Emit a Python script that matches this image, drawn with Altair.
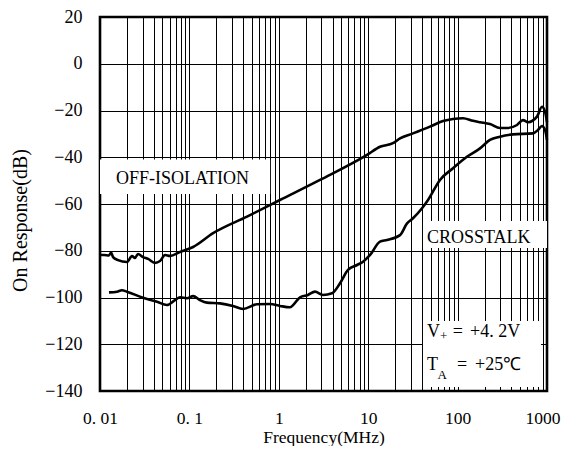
import altair as alt
import pandas as pd

# OFF-ISOLATION curve (frequency MHz, dB)
off_freq = [0.010, 0.0111, 0.0126, 0.0133, 0.0140, 0.0159, 0.0200, 0.0228, 0.0246, 0.0266,
            0.0303, 0.0345, 0.0412, 0.0469, 0.0534, 0.0607, 0.0785, 0.110, 0.184, 0.441,
            1.03, 2.89, 9.70, 13.55, 18.9, 22.7, 31.7, 49.1, 68.7, 88.9, 115, 149, 178,
            230, 298, 357, 462, 539, 613, 773, 879, 950, 1000]
off_db = [-81.8, -81.8, -82.0, -80.8, -82.7, -84.0, -84.8, -82.3, -83.1, -81.4,
          -82.7, -83.5, -85.2, -84.4, -81.8, -82.2, -80.5, -78.4, -72.5, -65.4,
          -58.3, -49.7, -39.0, -35.5, -34.0, -31.9, -29.8, -26.9, -24.5, -23.6, -23.3, -24.4, -25.0,
          -25.8, -27.5, -27.5, -26.2, -24.1, -25.0, -22.6, -18.4, -20.5, -25.0]

# CROSSTALK curve
xt_freq = [0.0126, 0.0155, 0.0176, 0.0200, 0.0303, 0.0434, 0.0561, 0.0690, 0.0785, 0.0940,
           0.110, 0.131, 0.157, 0.220, 0.307, 0.398, 0.571, 0.797, 1.03, 1.33, 1.73, 2.12,
           2.54, 3.12, 3.94, 4.84, 5.94, 7.50, 8.75, 10.5, 13.55, 16.2, 22.7, 27.2, 31.7,
           40.0, 46.7, 63.5, 88.9, 127, 178, 230, 298, 417, 697, 793, 879, 950, 1000]
xt_db = [-97.8, -97.5, -96.9, -97.5, -100.1, -101.8, -103.2, -101.1, -99.9, -100.3,
         -99.4, -101.1, -102.2, -102.5, -103.6, -104.9, -102.9, -102.8, -103.6, -104.2, -99.9, -98.9,
         -97.5, -98.9, -98.2, -93.9, -88.2, -86.1, -84.7, -81.8, -76.1, -75.4, -73.3, -68.3, -66.1,
         -61.8, -58.3, -49.7, -44.7, -39.8, -36.2, -32.6, -31.2, -30.2, -29.8, -28.3, -26.6, -28.3, -32.6]

x_tick_values = [0.01, 0.1, 1, 10, 100, 1000]
x_tick_labels = ["0. 01", "0. 1", "1", "10", "100", "1000"]
y_tick_values = [-140, -120, -100, -80, -60, -40, -20, 0, 20]

# annotation boxes (freq, freq2, dB, dB2)
box_x = [0.0100, 41.0, 41.0]
box_x2 = [0.80, 1000, 857]
box_y = [-41.0, -67.3, -110.0]
box_y2 = [-55.7, -78.8, -138.3]

# annotation texts
ann_text = ["OFF-ISOLATION", "CROSSTALK", "V", "=", "+4. 2V", "T", "=", "+25℃"]
ann_x = [0.0151, 45.5, 45.5, 88.1, 137.7, 45.5, 98.5, 156.6]
ann_y = [-51.4, -76.7, -116.9, -116.9, -116.9, -131.0, -131.0, -131.0]
sub_text = ["+", "A"]
sub_x = [63.5, 59.5]
sub_y = [-118.3, -134.9]

grid_x = []
for k in range(-2, 3):
    for m in range(1, 10):
        grid_x.append(round(m * 10 ** k, 6))
grid_x.append(1000)

curves = pd.DataFrame(
    {"f": off_freq + xt_freq,
     "db": off_db + xt_db,
     "s": ["OFF-ISOLATION"] * len(off_freq) + ["CROSSTALK"] * len(xt_freq)}
)
boxes = pd.DataFrame({"x": box_x, "x2": box_x2, "y": box_y, "y2": box_y2})
anns = pd.DataFrame({"x": ann_x, "y": ann_y, "t": ann_text})
subs = pd.DataFrame({"x": sub_x, "y": sub_y, "t": sub_text})

expr = " : ".join(
    f"datum.value == {v} ? '{l}'" for v, l in zip(x_tick_values, x_tick_labels)
) + " : ''"

FONT = "Liberation Serif"

xscale = alt.Scale(type="log", domain=[0.01, 1000], nice=False)
yscale = alt.Scale(domain=[-140, 20], nice=False)

xaxis = alt.Axis(values=grid_x, labelExpr=expr, grid=True, gridColor="black", gridWidth=1,
                 gridOpacity=1, ticks=False, domain=False, labelFont=FONT, labelFontSize=17.5,
                 labelColor="black", labelPadding=18, labelOverlap=False, labelFlush=False,
                 labelAlign={"condition": {"test": "datum.value == 1000", "value": "right"},
                             "value": "center"},
                 labelOffset={"condition": {"test": "datum.value == 1000", "value": 13},
                              "value": 0},
                 title="Frequency(MHz)", titleFont=FONT, titleFontSize=17.5, titleFontWeight="normal",
                 titleColor="black", titleBaseline="alphabetic", titleY=51)
yaxis = alt.Axis(values=y_tick_values, grid=True, gridColor="black", gridWidth=1, gridOpacity=1,
                 ticks=False, domain=False, labelFont=FONT, labelFontSize=18, labelColor="black",
                 labelPadding=18, labelExpr="replace(format(datum.value, 'd'), '-', '−')",
                 title="On Response(dB)", titleFont=FONT, titleFontSize=20, titleFontWeight="normal",
                 titleColor="black", titleBaseline="alphabetic", titleX=-74, titleY=203)

rects = alt.Chart(boxes).mark_rect(fill="white", stroke=None).encode(
    x=alt.X("x:Q", scale=xscale, axis=xaxis),
    x2="x2:Q",
    y=alt.Y("y:Q", scale=yscale, axis=yaxis),
    y2="y2:Q",
)

lines = alt.Chart(curves).mark_line(color="black", strokeWidth=2.6, interpolate="monotone").encode(
    x=alt.X("f:Q", scale=xscale),
    y=alt.Y("db:Q", scale=yscale),
    detail="s:N",
    order=alt.Order("f:Q"),
)

texts = alt.Chart(anns).mark_text(font=FONT, fontSize=18, align="left", baseline="alphabetic",
                                  color="black").encode(
    x=alt.X("x:Q", scale=xscale), y=alt.Y("y:Q", scale=yscale), text="t:N")

subtexts = alt.Chart(subs).mark_text(font=FONT, fontSize=13, align="left", baseline="alphabetic",
                                     color="black").encode(
    x=alt.X("x:Q", scale=xscale), y=alt.Y("y:Q", scale=yscale), text="t:N")

chart = alt.layer(rects, lines, texts, subtexts).properties(
    width=447, height=374,
    autosize=alt.AutoSizeParams(type="none"),
    padding={"left": 92, "top": 9, "right": 14, "bottom": 55},
    background="white",
).configure_view(stroke="black", strokeWidth=2.6)

chart.save("out.html", embed_options={"renderer": "svg", "actions": False})
